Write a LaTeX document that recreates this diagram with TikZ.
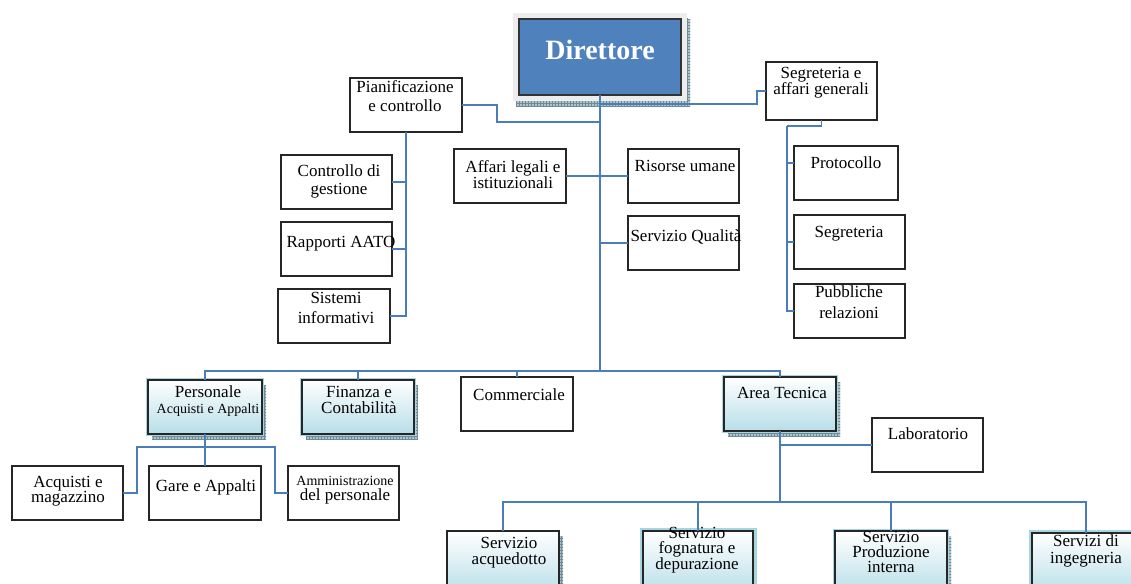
\documentclass[tikz,border=0pt]{standalone}
\usepackage{fontspec}
\setmainfont{Liberation Serif}
\usetikzlibrary{shadows,patterns,calc}
\definecolor{lc}{RGB}{74,126,187}
\definecolor{dblue}{RGB}{79,129,189}
\definecolor{aqua}{RGB}{183,222,232}
\definecolor{halo}{RGB}{165,213,226}
\definecolor{shc}{RGB}{110,140,152}
\definecolor{shl}{RGB}{175,195,202}
\newcommand\fs{\fontsize{17}{18}\selectfont}
\newcommand\fss{\fontsize{14}{15}\selectfont}
\newcommand\mkbox[6]{%
  \pgfmathsetmacro\mbW{#5-#3}\pgfmathsetmacro\mbH{#6-#4}%
  \pgfmathsetmacro\mbX{(#3+#5)/2}\pgfmathsetmacro\mbY{(#4+#6)/2}%
  \node[#1, minimum width=\mbW pt, minimum height=\mbH pt] (#2) at (\mbX,\mbY) {};}
\tikzset{
  base/.style={rectangle, inner sep=0pt, outer sep=0pt},
  plain/.style={base, draw=black!85, line width=1.3pt, fill=white},
  shsty/.style={general shadow={shadow xshift=4pt, shadow yshift=-5pt, fill=shl},
                general shadow={shadow xshift=4pt, shadow yshift=-5pt, pattern=grid, pattern color=shc}},
  grad/.style={base, shsty, draw=black!85, line width=1.8pt, top color=white, bottom color=aqua},
  haloA/.style={preaction={draw=halo, line width=3.6pt}},
  haloB/.style={preaction={draw=halo, line width=7pt}},
  link/.style={draw=lc, line width=1.5pt},
  txt/.style={inner sep=0pt, outer sep=0pt, align=center, font=\fs, text=black, anchor=base},
}
\begin{document}
\begin{tikzpicture}[x=1pt,y=-1pt]
\useasboundingbox (0,0) rectangle (1131,583);
\clip (0,0) rectangle (1131,583);
% ---- Direttore
\mkbox{base, fill=black!7, general shadow={shadow xshift=3pt, shadow yshift=-6pt, fill=shl}, general shadow={shadow xshift=3pt, shadow yshift=-6pt, pattern=grid, pattern color=shc}}{dframe}{513}{13}{687}{101}
\mkbox{base, fill=dblue, draw=black!80, line width=1.2pt}{dir}{519}{19}{681}{95}
\node[txt, font=\fontsize{28}{30}\selectfont\bfseries, text=white] (dir-t) at (600,60) {Direttore};
% ---- upper boxes
\mkbox{plain}{pian}{350}{78}{462}{132}
\mkbox{plain}{seg}{766}{62}{877}{120}
\mkbox{plain}{ctrl}{281}{155}{392}{209}
\mkbox{plain}{rapp}{281}{222}{392}{276}
\mkbox{plain}{sist}{278}{289}{390}{343}
\mkbox{plain}{aff}{454}{149}{566}{203}
\mkbox{plain}{ris}{628}{149}{739}{203}
\mkbox{plain}{qual}{628}{216}{739}{270}
\mkbox{plain}{prot}{794}{146}{898}{200}
\mkbox{plain}{segr}{794}{215}{905}{269}
\mkbox{plain}{pubb}{794}{284}{905}{338}
% ---- level 2
\mkbox{grad, haloA}{pers}{148}{380}{262}{434}
\mkbox{grad, haloA}{fin}{302}{380}{414}{434}
\mkbox{plain}{comm}{461}{377}{573}{431}
\mkbox{grad, haloA}{area}{724}{377}{836}{431}
\mkbox{plain}{lab}{872}{418}{983}{472}
\mkbox{plain}{acq}{12}{466}{123}{520}
\mkbox{plain}{gare}{149}{466}{261}{520}
\mkbox{plain}{amm}{288}{466}{399}{520}
% ---- level 3
\mkbox{grad}{acqd}{447}{531}{559}{595}
\mkbox{grad, haloB}{fogn}{643}{531}{753}{595}
\mkbox{grad, haloA}{prod}{835}{531}{947}{595}
\mkbox{grad, haloB}{ing}{1032}{533}{1140}{595}
% ---- texts (base = baseline of the last line)
\node[txt, font=\fontsize{17}{19}\selectfont] (pian-t) at (405,111) {Pianificazione\\e controllo};
\node[txt, font=\fontsize{17}{15}\selectfont] (seg-t) at (821,95) {Segreteria e\\affari generali};
\node[txt] (ctrl-t) at (339,194) {Controllo di\\gestione};
\node[txt] (rapp-t) at (341,247) {Rapporti AATO};
\node[txt, font=\fontsize{17}{20}\selectfont] (sist-t) at (336,323) {Sistemi\\informativi};
\node[txt, font=\fontsize{17}{16}\selectfont] (aff-t) at (513,188) {Affari legali e\\istituzionali};
\node[txt] (ris-t) at (685,171) {Risorse umane};
\node[txt] (qual-t) at (686,241) {Servizio Qualità};
\node[txt] (prot-t) at (846,168) {Protocollo};
\node[txt] (segr-t) at (849,237) {Segreteria};
\node[txt, font=\fontsize{17}{21}\selectfont] (pubb-t) at (849,318) {Pubbliche\\relazioni};
\node[txt, font=\fontsize{17}{16}\selectfont] (pers-t) at (208,413) {Personale\\{\fss Acquisti e Appalti}};
\node[txt, font=\fontsize{17}{15.5}\selectfont] (fin-t) at (359,413) {Finanza e\\Contabilità};
\node[txt] (comm-t) at (519,400) {Commerciale};
\node[txt] (area-t) at (782,398) {Area Tecnica};
\node[txt] (lab-t) at (928,439) {Laboratorio};
\node[txt, font=\fontsize{17}{15}\selectfont] (acq-t) at (68,502) {Acquisti e\\magazzino};
\node[txt] (gare-t) at (206,491) {Gare e Appalti};
\node[txt, font=\fontsize{17}{15}\selectfont] (amm-t) at (345,500) {{\fss Amministrazione}\\del personale};
\node[txt, font=\fontsize{17}{16}\selectfont] (acqd-t) at (509,564) {Servizio\\acquedotto};
\node[txt, font=\fontsize{17}{15.5}\selectfont] (fogn-t) at (697,569) {Servizio\\fognatura e\\depurazione};
\node[txt, font=\fontsize{17}{15}\selectfont] (prod-t) at (891,572) {Servizio\\Produzione\\interna};
\node[txt, font=\fontsize{17}{17}\selectfont] (ing-t) at (1086,563) {Servizi di\\ingegneria};
% ---- connectors
\coordinate (hub) at (600,371);
\coordinate (jS) at (600,104);
\coordinate (jP) at (600,122);
\draw[link] (dir.south) -- (hub);
\draw[link] (pian.east) -- ++(35,0) |- (jP);
\draw[link] (jS) -| ($(seg.west)+(-9,0)$) -- (seg.west);
\draw[link] (pian.south) |- (ctrl.east);
\draw[link] (pian.south) |- (rapp.east);
\draw[link] (pian.south) |- (sist.east);
\draw[link] (aff.east) -- (ris.west);
\draw[link] (qual.west -| hub) -- (qual.west);
\coordinate (sv) at (787,126);
\draw[link] (seg.south) |- (sv);
\draw[link] (sv) |- ([yshift=10pt]prot.west);
\draw[link] (sv) |- (segr.west);
\draw[link] (sv) |- (pubb.west);
\draw[link] (hub) -| (pers.north);
\draw[link] (hub) -| (fin.north);
\draw[link] (hub) -| (comm.north);
\draw[link] (hub) -| (area.north);
\coordinate (jPc) at (205,447);
\draw[link] (pers.south) -- (gare.north);
\draw[link] (jPc) -| ($(acq.east)+(14,0)$) -- (acq.east);
\draw[link] (jPc) -| ($(amm.west)+(-13,0)$) -- (amm.west);
\coordinate (jA) at (780,502);
\draw[link] (area.south) |- (lab.west);
\draw[link] (area.south) -- (jA);
\draw[link] (jA) -| (acqd.north);
\draw[link] (jA) -| (fogn.north);
\draw[link] (jA) -| (prod.north);
\draw[link] (jA) -| (ing.north);
\end{tikzpicture}
\end{document}
